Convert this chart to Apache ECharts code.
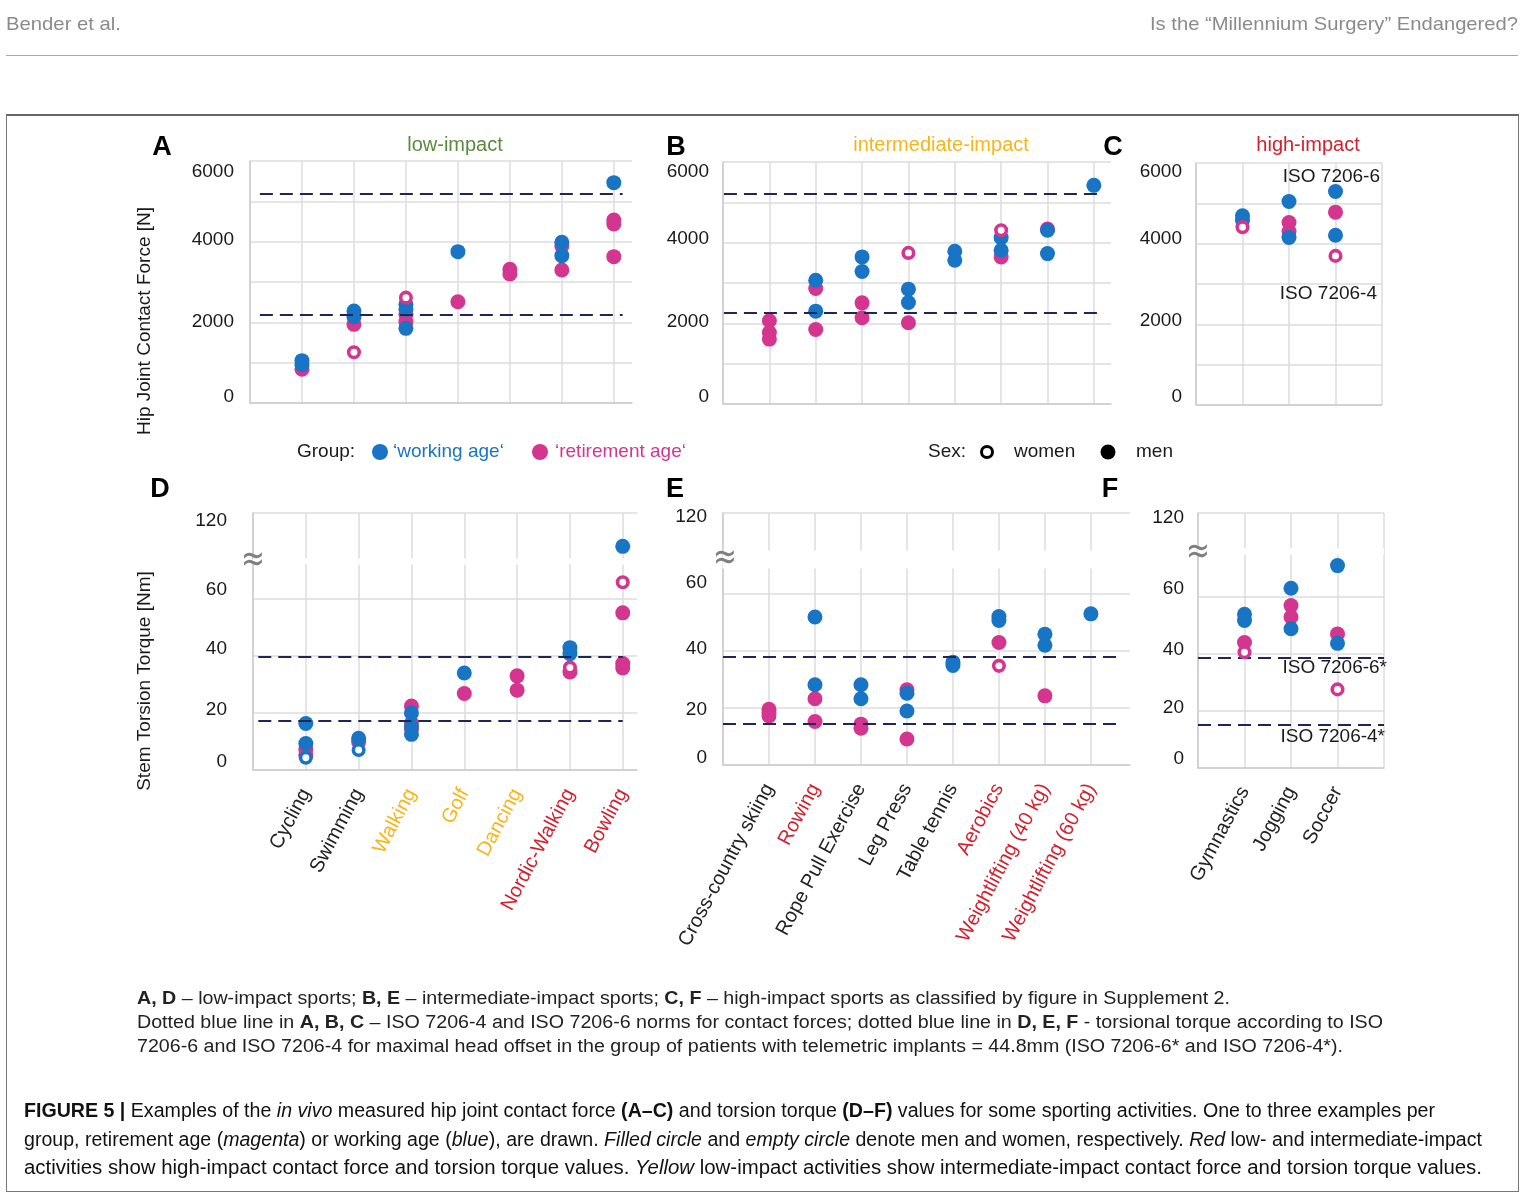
<!DOCTYPE html>
<html><head><meta charset="utf-8">
<script src="https://cdn.jsdelivr.net/npm/echarts@6/dist/echarts.min.js"></script>
<style>
html,body{margin:0;padding:0;background:#fff;}
#wrap{position:relative;width:1526px;height:1200px;overflow:hidden;font-family:"Liberation Sans",Arial,sans-serif;}
#chart{position:absolute;left:0;top:0;width:1526px;height:1200px;}
.t{position:absolute;white-space:nowrap;transform-origin:0 50%;line-height:1;}
.hd{color:#8b8b8b;font-size:19px;}
.cap{color:#222;font-size:18px;}
.fig{color:#111;font-size:20px;}
</style></head><body>
<div id="wrap">
<div id="chart"></div>
<div class="t hd" style="left:6px;top:14px" data-w="115">Bender et al.</div>
<div class="t hd" style="left:1150px;top:14px" data-w="368">Is the “Millennium Surgery” Endangered?</div>
<div style="position:absolute;left:6px;top:55px;width:1512px;height:1px;background:#a8a8a8"></div>
<div style="position:absolute;left:6px;top:114px;width:1513px;height:1078px;border:1px solid #777;border-top:2px solid #666;box-sizing:border-box"></div>
<div class="t cap" style="left:137px;top:989px" data-w="1093"><b>A, D</b> – low-impact sports; <b>B, E</b> – intermediate-impact sports; <b>C, F</b> – high-impact sports as classified by figure in Supplement 2.</div>
<div class="t cap" style="left:137px;top:1013px" data-w="1246">Dotted blue line in <b>A, B, C</b> – ISO 7206-4 and ISO 7206-6 norms for contact forces; dotted blue line in <b>D, E, F</b> - torsional torque according to ISO</div>
<div class="t cap" style="left:137px;top:1037px" data-w="1206">7206-6 and ISO 7206-4 for maximal head offset in the group of patients with telemetric implants = 44.8mm (ISO 7206-6* and ISO 7206-4*).</div>
<div class="t fig" style="left:24px;top:1100px" data-w="1411"><b>FIGURE 5 |</b> Examples of the <i>in vivo</i> measured hip joint contact force <b>(A–C)</b> and torsion torque <b>(D–F)</b> values for some sporting activities. One to three examples per</div>
<div class="t fig" style="left:24px;top:1129px" data-w="1458">group, retirement age (<i>magenta</i>) or working age (<i>blue</i>), are drawn. <i>Filled circle</i> and <i>empty circle</i> denote men and women, respectively. <i>Red</i> low- and intermediate-impact</div>
<div class="t fig" style="left:24px;top:1157px" data-w="1458">activities show high-impact contact force and torsion torque values. <i>Yellow</i> low-impact activities show intermediate-impact contact force and torsion torque values.</div>
</div>
<script>
// ---------------- DATA ----------------
const catsLow = ['Cycling','Swimming','Walking','Golf','Dancing','Nordic-Walking','Bowling'];
const classLow = ['low','low','intermediate','intermediate','intermediate','high','high'];
const catsMid = ['Cross-country skiing','Rowing','Rope Pull Exercise','Leg Press','Table tennis','Aerobics','Weightlifting (40 kg)','Weightlifting (60 kg)'];
const classMid = ['low','high','low','low','low','high','high','high'];
const catsHigh = ['Gymnastics','Jogging','Soccer'];
const classHigh = ['low','low','low'];

// Hip joint contact force [N]  ([category number, value])
const A_workMen   = [[1,1050],[1,950],[2,2280],[2,2140],[3,2446],[3,2322],[3,1851],[4,3752],[6,3983],[6,3653],[7,5463]];
const A_workWomen = [];
const A_retMen    = [[1,835],[2,1950],[3,2200],[3,2017],[4,2512],[5,3314],[5,3198],[6,3893],[6,3298],[7,4537],[7,4438],[7,3628]];
const A_retWomen  = [[2,1257],[3,2612]];
const A_iso = [5200, 2200];

const B_workMen   = [[2,3069],[2,2302],[3,3647],[3,3284],[4,2847],[4,2517],[5,3787],[5,3564],[6,4125],[6,3812],[7,4307],[7,3729],[8,5421]];
const B_workWomen = [];
const B_retMen    = [[1,2063],[1,1774],[1,1609],[2,2863],[2,1848],[3,2508],[3,2137],[4,2013],[6,3647],[7,4340]];
const B_retWomen  = [[4,3746],[6,4307]];
const B_iso = [5220, 2270];

const C_workMen   = [[1,4690],[1,4574],[2,5045],[2,4152],[3,5293],[3,4210]];
const C_workWomen = [];
const C_retMen    = [[2,4524],[2,4301],[3,4781]];
const C_retWomen  = [[1,4409],[3,3697]];
const C_iso = [5250, 2233];

// Stem torsion torque [Nm]
const D_workMen   = [[1,16.3],[1,9.3],[2,11.1],[3,20],[3,15.3],[3,12.5],[4,34],[6,42.9],[6,40.8],[7,108.3]];
const D_workWomen = [[1,4.3],[2,7.0]];
const D_retMen    = [[1,7.3],[1,5.2],[2,9.9],[3,22.4],[3,16.5],[3,14.3],[4,26.8],[5,33],[5,28],[6,34.4],[7,55.1],[7,37.3],[7,35.8]];
const D_retWomen  = [[6,35.9],[7,65.8]];
const D_iso = [39.8, 17.1];

const E_workMen   = [[2,51.8],[2,28.1],[3,28.1],[3,23.2],[4,25.1],[4,18.9],[5,36],[5,34.8],[6,52],[6,50.6],[7,45.8],[7,41.9],[8,52.9]];
const E_workWomen = [];
const E_retMen    = [[1,19.5],[1,18.3],[1,17.2],[2,23.2],[2,15.2],[3,14.3],[3,12.9],[4,26.3],[4,9.1],[6,42.9],[7,24.2]];
const E_retWomen  = [[6,34.7]];
const E_iso = [37.9, 14.4];

const F_workMen   = [[1,53.8],[1,51.6],[2,62.9],[2,48.7],[3,70.8],[3,43.6]];
const F_workWomen = [];
const F_retMen    = [[1,43.9],[2,56.8],[2,52.8],[3,46.9]];
const F_retWomen  = [[1,40.5],[3,27.5]];
const F_iso = [38.4, 15.3];

const forceGrid = [0, 1000, 2000, 3000, 4000, 5000, 6000];
const forceTicks = [0, 2000, 4000, 6000];
const torqueTicks = [0, 20, 40, 60, 120];
const isoLabelsForce = ['ISO 7206-6', 'ISO 7206-4'];
const isoLabelsTorque = ['ISO 7206-6*', 'ISO 7206-4*'];

// ---------------- STYLE / LAYOUT ----------------
const FONT = '"Liberation Sans", Arial, sans-serif';
const BLUE = '#1874c4', MAG = '#d4358e', NAVY = '#1d2657';
const GRID_C = '#dcdcdc', AXIS_C = '#cccccc';
const classColor = {low:'#222222', intermediate:'#f8b518', high:'#d3202f'};

const panels = [
  {grid:{left:250,top:161,width:382,height:242}, xmax:7.35, maxLine:false, ymax:6000, grid_v:forceGrid, ticks:forceTicks, ymargin:16,
   shift:{6000:11, 4000:-2, 2000:-1, 0:-6},
   d:[A_workMen,A_workWomen,A_retMen,A_retWomen], iso:A_iso, isoX:[0.19,7.17]},
  {grid:{left:723,top:162,width:388,height:242}, xmax:8.37, maxLine:false, ymax:6000, grid_v:forceGrid, ticks:forceTicks, ymargin:14,
   shift:{6000:10, 4000:-4, 2000:-2, 0:-7},
   d:[B_workMen,B_workWomen,B_retMen,B_retWomen], iso:B_iso, isoX:[0.02,8.08]},
  {grid:{left:1196,top:163,width:186,height:242}, xmax:4, maxLine:true, ymax:6000, grid_v:forceGrid, ticks:forceTicks, ymargin:14,
   shift:{6000:9, 4000:-5, 2000:-4, 0:-8},
   d:[C_workMen,C_workWomen,C_retMen,C_retWomen], iso:C_iso, isoX:[0.02,4.15]},
  {grid:{left:253,top:513,width:384,height:257}, xmax:7.27, maxLine:false, ymax:120, grid_v:torqueTicks, ticks:torqueTicks, ymargin:26,
   shift:{120:8, 60:-9, 40:-7, 20:-3, 0:-8},
   brk:{start:72,end:104,gap:2.1}, cats:catsLow, cls:classLow,
   d:[D_workMen,D_workWomen,D_retMen,D_retWomen], iso:D_iso, isoX:[0.1,7.0]},
  {grid:{left:723,top:513,width:407,height:252}, xmax:8.85, maxLine:false, ymax:120, grid_v:torqueTicks, ticks:torqueTicks, ymargin:16,
   shift:{120:4, 60:-11, 40:-2, 20:2, 0:-7},
   brk:{start:68.7,end:106.8,gap:6.3}, cats:catsMid, cls:classMid,
   d:[E_workMen,E_workWomen,E_retMen,E_retWomen], iso:E_iso, isoX:[0,8.57]},
  {grid:{left:1198,top:513,width:186,height:255}, xmax:4, maxLine:true, ymax:120, grid_v:torqueTicks, ticks:torqueTicks, ymargin:14,
   shift:{120:5, 60:-8, 40:-4, 20:-3, 0:-9},
   brk:{start:74.6,end:107.7,gap:2.3}, cats:catsHigh, cls:classHigh,
   d:[F_workMen,F_workWomen,F_retMen,F_retWomen], iso:F_iso, isoX:[0,4]}
];

const grids=[], xAxes=[], yAxes=[], series=[];
const xrich = {};
Object.keys(classColor).forEach(k => xrich[k] = {color:classColor[k], fontSize:20, fontFamily:FONT});

panels.forEach((p, i) => {
  grids.push(Object.assign({containLabel:false, outerBoundsMode:'none'}, p.grid));
  const xa = {type:'value', gridIndex:i, min:0, max:p.xmax, interval:1,
    axisLine:{show:true, onZero:false, lineStyle:{color:AXIS_C, width:1.5}},
    axisTick:{show:false},
    splitLine:{show:true, showMaxLine:p.maxLine, lineStyle:{color:GRID_C, width:1.5}},
    axisLabel:{show:false}};
  if (p.cats) {
    xa.axisLabel = {show:true, rotate:62, margin:20, fontSize:20, fontFamily:FONT, rich:xrich,
      formatter: (v) => {
        const k = Math.round(v);
        if (Math.abs(v-k) > 1e-6 || k < 1 || k > p.cats.length) return '';
        return '{' + p.cls[k-1] + '|' + p.cats[k-1] + '}';
      }};
  }
  xAxes.push(xa);
  const yrich = {};
  p.ticks.forEach((t, j) => {
    const dy = p.shift[t] || 0;
    yrich['v' + j] = {fontSize:19, fontFamily:FONT, color:'#1a1a1a',
      padding: dy >= 0 ? [2*dy, 0, 0, 0] : [0, 0, -2*dy, 0]};
  });
  const ya = {type:'value', gridIndex:i, min:0, max:p.ymax,
    axisLine:{show:true, lineStyle:{color:AXIS_C, width:1.5}},
    axisTick:{show:false, customValues:p.grid_v},
    splitLine:{show:true, lineStyle:{color:GRID_C, width:1.5}},
    axisLabel:{show:true, margin:p.ymargin, fontSize:19, fontFamily:FONT, color:'#1a1a1a', customValues:p.ticks, rich:yrich,
      formatter:(v) => {
        const j = p.ticks.findIndex(t => Math.abs(t - v) < 1e-6);
        return j >= 0 ? '{v' + j + '|' + p.ticks[j] + '}' : '';
      }}};
  if (p.brk) {
    ya.breaks = [{start:p.brk.start, end:p.brk.end, gap:p.brk.gap}];
    ya.breakArea = {show:true, expandOnClick:false, zigzagAmplitude:0, zigzagMinSpan:4, zigzagMaxSpan:20,
      itemStyle:{color:'#ffffff', borderColor:'#ffffff', borderWidth:0, opacity:1}};
  }
  yAxes.push(ya);
  const styles = [
    {name:'working age men', color:BLUE, hollow:false},
    {name:'working age women', color:BLUE, hollow:true},
    {name:'retirement age men', color:MAG, hollow:false},
    {name:'retirement age women', color:MAG, hollow:true}
  ];
  const order = [2, 0, 3, 1];
  order.forEach((si, n) => {
    const st = styles[si];
    const s = {type:'scatter', name:st.name, xAxisIndex:i, yAxisIndex:i, data:p.d[si],
      symbol:'circle', symbolSize: st.hollow ? 10.5 : 15, z: 3 + n,
      itemStyle: st.hollow ? {color:'#ffffff', borderColor:st.color, borderWidth:3.6, opacity:1} : {color:st.color, opacity:1},
      emphasis:{disabled:true}, silent:true};
    if (n === 0) {
      s.markLine = {silent:true, symbol:['none','none'], label:{show:false}, animation:false,
        lineStyle:{color:NAVY, width:2.2, type:[13,7]},
        data: p.iso.map(v => [{coord:[p.isoX[0], v]}, {coord:[p.isoX[1], v]}])};
    }
    series.push(s);
  });
});

function txt(x, y, text, font, fill, align, extra) {
  return Object.assign({type:'text', x:x, y:y, silent:true, z:100, zlevel:1,
    style:{text:text, font:font, fill:fill, textAlign:align||'left', textVerticalAlign:'middle', align:align||'left', verticalAlign:'middle'}}, extra||{});
}
const bold = 'bold 27px ' + FONT;
const f19 = '19px ' + FONT;
const f20 = '20px ' + FONT;
const brkFont = '38px "DejaVu Sans"';
const graphics = [
  txt(162,148,'A',bold,'#000','center'), txt(676,148,'B',bold,'#000','center'), txt(1113,148,'C',bold,'#000','center'),
  txt(160,490,'D',bold,'#000','center'), txt(675,490,'E',bold,'#000','center'), txt(1110,490,'F',bold,'#000','center'),
  txt(455,145,'low-impact',f20,'#5b8a3c','center'),
  txt(941,145,'intermediate-impact',f20,'#f8b518','center'),
  txt(1308,145,'high-impact',f20,'#d3202f','center'),
  txt(145,321,'Hip Joint Contact Force [N]',f19,'#1a1a1a','center',{rotation:Math.PI/2}),
  txt(145,681,'Stem Torsion Torque [Nm]',f19,'#1a1a1a','center',{rotation:Math.PI/2}),
  txt(1380,177,isoLabelsForce[0],f19,'#1a1a1a','right'),
  txt(1377,294,isoLabelsForce[1],f19,'#1a1a1a','right'),
  txt(1387,668,isoLabelsTorque[0],f19,'#1a1a1a','right'),
  txt(1385,737,isoLabelsTorque[1],f19,'#1a1a1a','right'),
  txt(253,561,'≈',brkFont,'#808080','center',{scaleX:0.75}),
  txt(725,559,'≈',brkFont,'#808080','center',{scaleX:0.75}),
  txt(1198,553,'≈',brkFont,'#808080','center',{scaleX:0.75}),
  // legend
  txt(297,452,'Group:',f19,'#1a1a1a','left'),
  {type:'circle', shape:{cx:380,cy:452,r:8}, style:{fill:BLUE}, silent:true},
  txt(393,452,'‘working age‘',f19,BLUE,'left'),
  {type:'circle', shape:{cx:540,cy:452,r:8}, style:{fill:MAG}, silent:true},
  txt(555,452,'‘retirement age‘',f19,MAG,'left'),
  txt(928,452,'Sex:',f19,'#1a1a1a','left'),
  {type:'circle', shape:{cx:987,cy:452,r:5.5}, style:{fill:'#fff', stroke:'#000', lineWidth:3}, silent:true},
  txt(1014,452,'women',f19,'#1a1a1a','left'),
  {type:'circle', shape:{cx:1108,cy:452,r:7.5}, style:{fill:'#000'}, silent:true},
  txt(1136,452,'men',f19,'#1a1a1a','left')
];

const chart = echarts.init(document.getElementById('chart'), null, {renderer:'canvas'});
chart.setOption({animation:false, backgroundColor:'transparent', grid:grids, xAxis:xAxes, yAxis:yAxes, series:series, graphic:{elements:graphics}});

function fit(){
  document.querySelectorAll('.t[data-w]').forEach(el => {
    el.style.transform = 'none';
    const w = el.getBoundingClientRect().width;
    if (w > 0) el.style.transform = 'scaleX(' + (+el.dataset.w / w) + ')';
  });
}
fit();
if (document.fonts && document.fonts.ready) document.fonts.ready.then(fit);
</script>
</body></html>
